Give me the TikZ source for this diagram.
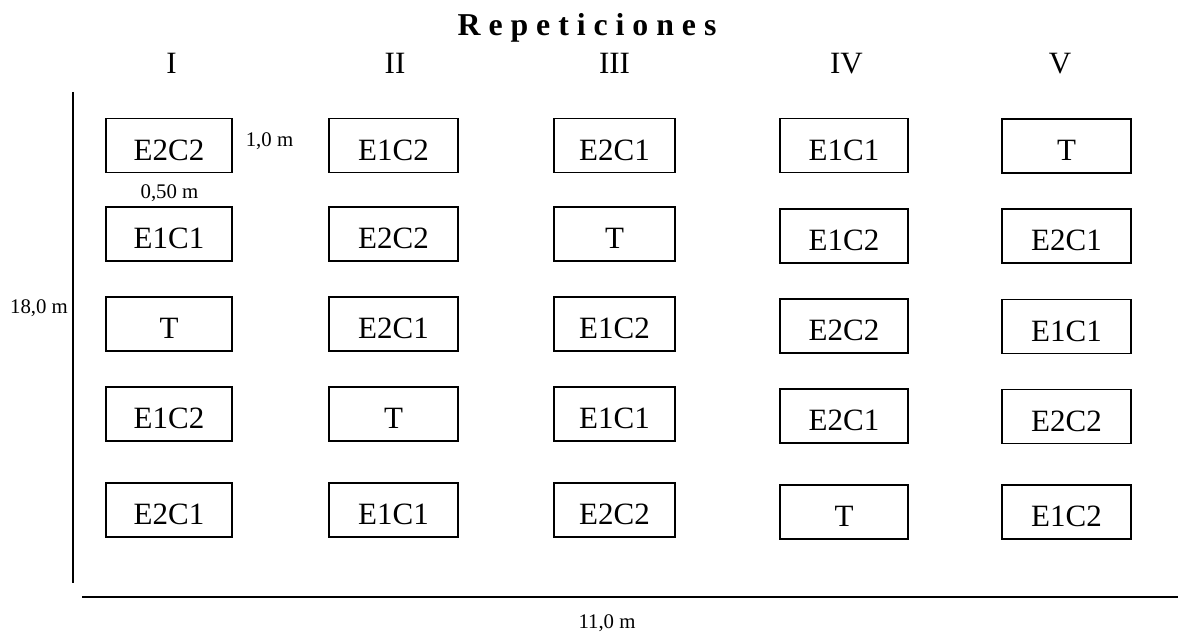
\documentclass[tikz,border=0pt]{standalone}
\usepackage{fontspec}
\setmainfont{Liberation Serif}
\begin{document}
\begin{tikzpicture}[x=0.5pt,y=-0.5pt,
  plotbox/.style={draw, line width=0.75pt, minimum width=#1, minimum height=27pt,
    inner sep=0pt, text height=14.8pt, text depth=0pt, font=\fontsize{15.5pt}{18pt}\selectfont},
  numeral/.style={anchor=base, inner sep=0pt, font=\fontsize{15.5pt}{18pt}\selectfont},
  dim/.style={anchor=base, inner sep=0pt, font=\fontsize{10.4pt}{12pt}\selectfont},
  title/.style={anchor=base, inner sep=0pt, font=\fontsize{15.9pt}{18pt}\selectfont\bfseries},
  axis/.style={line width=1pt}]
\useasboundingbox (0,0) rectangle (1181,635);
% title and numerals
\node[title] (tit) at (587,36) {R e p e t i c i o n e s};
\node[numeral] (nI) at (171.5,74) {I};
\node[numeral] (nII) at (395,74) {II};
\node[numeral] (nIII) at (614.5,74) {III};
\node[numeral] (nIV) at (846.5,74) {IV};
\node[numeral] (nV) at (1060,74) {V};
% column I
\node[plotbox=63pt] (a1) at (169,145.5) {E2C2};
\node[plotbox=63pt] (a2) at (169,234) {E1C1};
\node[plotbox=63pt] (a3) at (169,324) {T};
\node[plotbox=63pt] (a4) at (169,414) {E1C2};
\node[plotbox=63pt] (a5) at (169,510) {E2C1};
% column II
\node[plotbox=64.5pt] (b1) at (393.5,145.5) {E1C2};
\node[plotbox=64.5pt] (b2) at (393.5,234) {E2C2};
\node[plotbox=64.5pt] (b3) at (393.5,324) {E2C1};
\node[plotbox=64.5pt] (b4) at (393.5,414) {T};
\node[plotbox=64.5pt] (b5) at (393.5,510) {E1C1};
% column III
\node[plotbox=60.5pt] (c1) at (614.5,145.5) {E2C1};
\node[plotbox=60.5pt] (c2) at (614.5,234) {T};
\node[plotbox=60.5pt] (c3) at (614.5,324) {E1C2};
\node[plotbox=60.5pt] (c4) at (614.5,414) {E1C1};
\node[plotbox=60.5pt] (c5) at (614.5,510) {E2C2};
% column IV
\node[plotbox=64pt] (d1) at (844,145.5) {E1C1};
\node[plotbox=64pt] (d2) at (844,236) {E1C2};
\node[plotbox=64pt] (d3) at (844,326) {E2C2};
\node[plotbox=64pt] (d4) at (844,416) {E2C1};
\node[plotbox=64pt] (d5) at (844,512) {T};
% column V
\node[plotbox=64.5pt] (e1) at (1066.5,146) {T};
\node[plotbox=64.5pt] (e2) at (1066.5,236) {E2C1};
\node[plotbox=64.5pt] (e3) at (1066.5,326.5) {E1C1};
\node[plotbox=64.5pt] (e4) at (1066.5,416.5) {E2C2};
\node[plotbox=64.5pt] (e5) at (1066.5,512) {E1C2};
% dimension labels
\node[dim] (d10) at (269.5,146.5) {1,0 m};
\node[dim] (d050) at (169.5,199) {0,50 m};
\node[dim] (d18) at (39,314) {18,0 m};
\node[dim] (d11) at (607,628) {11,0 m};
% axes
\coordinate (vt) at (72.7,92);
\coordinate (vb) at (72.7,583);
\coordinate (hl) at (82,597);
\coordinate (hr) at (1178,597);
\draw[axis] (vt) -- (vb);
\draw[axis] (hl) -- (hr);
\end{tikzpicture}
\end{document}
